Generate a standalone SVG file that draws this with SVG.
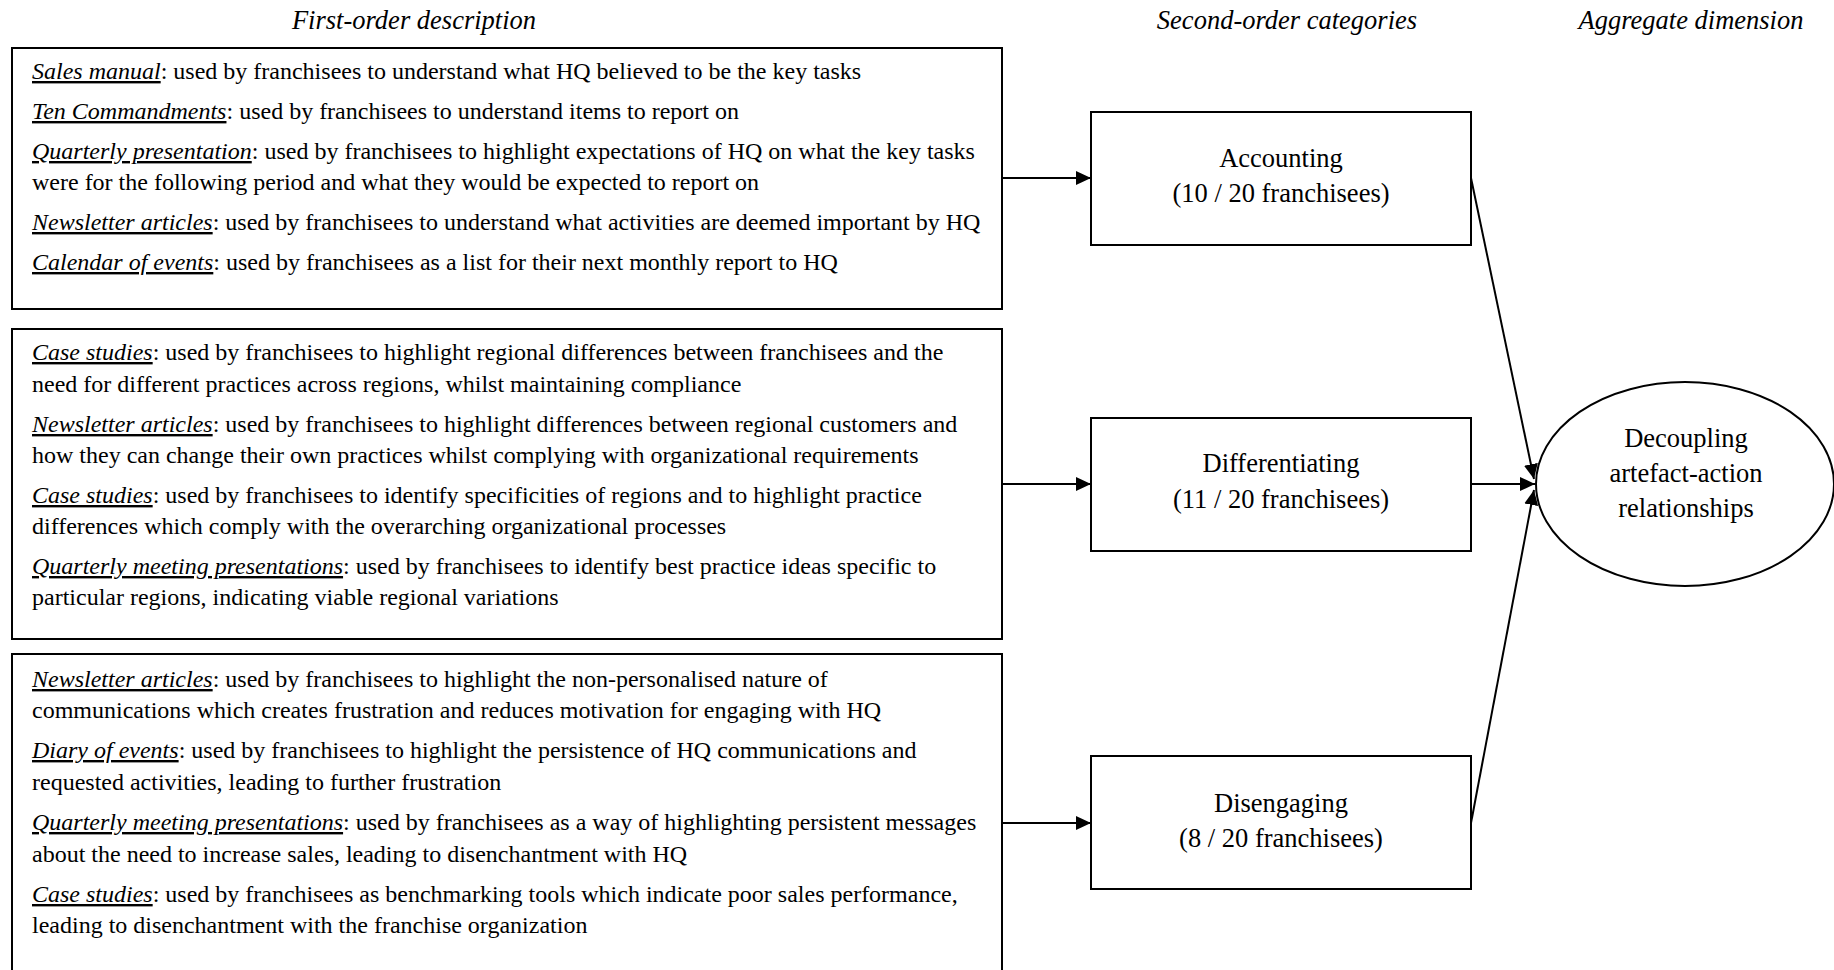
<svg xmlns="http://www.w3.org/2000/svg" width="1834" height="970" viewBox="0 0 1834 970">
<style>
.box{fill:#fff;stroke:#000;stroke-width:2}
.body{font-family:"Liberation Serif","Times New Roman",serif;font-size:24px;fill:#000}
.lbl{font-style:italic;text-decoration:underline}
.head{font-family:"Liberation Serif","Times New Roman",serif;font-size:26.5px;font-style:italic;fill:#000;text-anchor:middle}
.ctr{font-family:"Liberation Serif","Times New Roman",serif;font-size:26.5px;fill:#000;text-anchor:middle}
.conn line{stroke:#000;stroke-width:2;marker-end:url(#arr)}
</style>
<defs>
<marker id="arr" markerUnits="userSpaceOnUse" markerWidth="16" markerHeight="16" viewBox="0 0 16 16" refX="15" refY="8" orient="auto">
<path d="M0,1 L15,8 L0,15 Z" fill="#000"/>
</marker>
</defs>
<rect width="1834" height="970" fill="#fff"/>
<g id="headers">
<text class="head" x="414" y="29">First-order description</text>
<text class="head" x="1287" y="29">Second-order categories</text>
<text class="head" x="1691" y="29">Aggregate dimension</text>
</g>
<g id="box1">
<rect class="box" x="12" y="48" width="990" height="261"/>
<text class="body" x="32" y="79"><tspan class="lbl">Sales manual</tspan>: used by franchisees to understand what HQ believed to be the key tasks</text>
<text class="body" x="32" y="119"><tspan class="lbl">Ten Commandments</tspan>: used by franchisees to understand items to report on</text>
<text class="body" x="32" y="159"><tspan class="lbl">Quarterly presentation</tspan>: used by franchisees to highlight expectations of HQ on what the key tasks</text>
<text class="body" x="32" y="190">were for the following period and what they would be expected to report on</text>
<text class="body" x="32" y="230"><tspan class="lbl">Newsletter articles</tspan>: used by franchisees to understand what activities are deemed important by HQ</text>
<text class="body" x="32" y="270"><tspan class="lbl">Calendar of events</tspan>: used by franchisees as a list for their next monthly report to HQ</text>
</g>
<g id="box2">
<rect class="box" x="12" y="329" width="990" height="310"/>
<text class="body" x="32" y="360"><tspan class="lbl">Case studies</tspan>: used by franchisees to highlight regional differences between franchisees and the</text>
<text class="body" x="32" y="392">need for different practices across regions, whilst maintaining compliance</text>
<text class="body" x="32" y="432"><tspan class="lbl">Newsletter articles</tspan>: used by franchisees to highlight differences between regional customers and</text>
<text class="body" x="32" y="463">how they can change their own practices whilst complying with organizational requirements</text>
<text class="body" x="32" y="503"><tspan class="lbl">Case studies</tspan>: used by franchisees to identify specificities of regions and to highlight practice</text>
<text class="body" x="32" y="534">differences which comply with the overarching organizational processes</text>
<text class="body" x="32" y="574"><tspan class="lbl">Quarterly meeting presentations</tspan>: used by franchisees to identify best practice ideas specific to</text>
<text class="body" x="32" y="605">particular regions, indicating viable regional variations</text>
</g>
<g id="box3">
<rect class="box" x="12" y="654" width="990" height="330"/>
<text class="body" x="32" y="687"><tspan class="lbl">Newsletter articles</tspan>: used by franchisees to highlight the non-personalised nature of</text>
<text class="body" x="32" y="718">communications which creates frustration and reduces motivation for engaging with HQ</text>
<text class="body" x="32" y="758"><tspan class="lbl">Diary of events</tspan>: used by franchisees to highlight the persistence of HQ communications and</text>
<text class="body" x="32" y="790">requested activities, leading to further frustration</text>
<text class="body" x="32" y="830"><tspan class="lbl">Quarterly meeting presentations</tspan>: used by franchisees as a way of highlighting persistent messages</text>
<text class="body" x="32" y="862">about the need to increase sales, leading to disenchantment with HQ</text>
<text class="body" x="32" y="902"><tspan class="lbl">Case studies</tspan>: used by franchisees as benchmarking tools which indicate poor sales performance,</text>
<text class="body" x="32" y="933">leading to disenchantment with the franchise organization</text>
</g>
<g id="accounting">
<rect class="box" x="1091" y="112" width="380" height="133"/>
<text class="ctr" x="1281" y="167">Accounting</text>
<text class="ctr" x="1281" y="202">(10 / 20 franchisees)</text>
</g>
<g id="differentiating">
<rect class="box" x="1091" y="418" width="380" height="133"/>
<text class="ctr" x="1281" y="472">Differentiating</text>
<text class="ctr" x="1281" y="508">(11 / 20 franchisees)</text>
</g>
<g id="disengaging">
<rect class="box" x="1091" y="756" width="380" height="133"/>
<text class="ctr" x="1281" y="812">Disengaging</text>
<text class="ctr" x="1281" y="847">(8 / 20 franchisees)</text>
</g>
<g id="decoupling">
<ellipse cx="1685" cy="484" rx="149" ry="102" fill="#fff" stroke="#000" stroke-width="2"/>
<text class="ctr" x="1686" y="447">Decoupling</text>
<text class="ctr" x="1686" y="482">artefact-action</text>
<text class="ctr" x="1686" y="517">relationships</text>
</g>
<g id="connectors" class="conn">
<line x1="1002" y1="178" x2="1091" y2="178"/>
<line x1="1002" y1="484" x2="1091" y2="484"/>
<line x1="1002" y1="823" x2="1091" y2="823"/>
<line x1="1471" y1="178" x2="1534" y2="479"/>
<line x1="1471" y1="484" x2="1535" y2="484"/>
<line x1="1471" y1="823" x2="1534" y2="490"/>
</g>
</svg>
